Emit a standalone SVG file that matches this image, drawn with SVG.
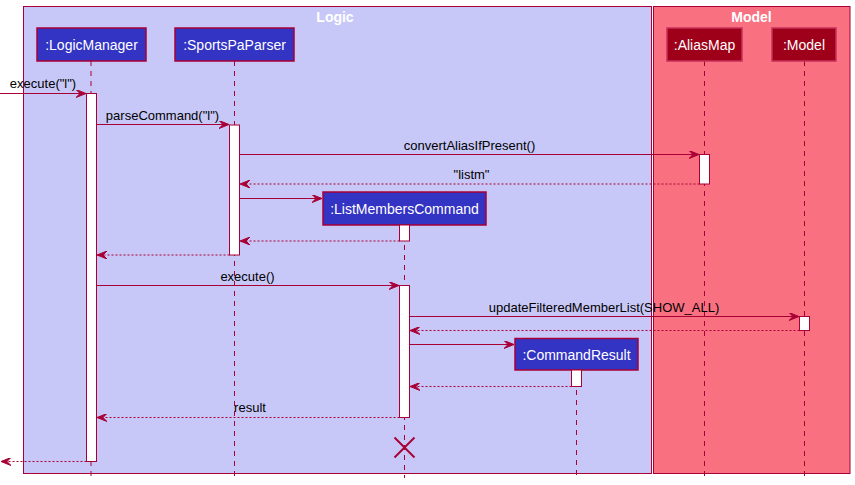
<svg xmlns="http://www.w3.org/2000/svg" width="855" height="485" viewBox="0 0 855 485">
<defs>
<style>
.txt{font-family:"Liberation Sans",Arial,sans-serif;font-size:13px;fill:#000;text-anchor:middle}
.ptxt{font-family:"Liberation Sans",Arial,sans-serif;font-size:14px;fill:#fff;text-anchor:middle}
.ttl{font-family:"Liberation Sans",Arial,sans-serif;font-size:14px;font-weight:bold;fill:#fff;text-anchor:middle}
.life{stroke:#A80036;stroke-width:1;stroke-dasharray:5,5;fill:none}
.act{fill:#fff;stroke:#A80036;stroke-width:1}
.plogic{fill:#3333C4;stroke:#A80036;stroke-width:1.5}
.pmodel{fill:#9D0018;stroke:#C8305A;stroke-width:1.5}
.msg{stroke:#A80036;stroke-width:1;fill:none}
.ret{stroke:#A80036;stroke-width:1;fill:none;stroke-dasharray:2,2}
</style>
<marker id="ah" viewBox="0 0 10 8" refX="10" refY="4" markerWidth="10" markerHeight="8" markerUnits="userSpaceOnUse" orient="auto">
<path d="M0,0 L10,4 L0,8 L4,4 Z" fill="#A80036" stroke="#A80036" stroke-width="1" stroke-dasharray="none"/>
</marker>
</defs>
<rect width="855" height="485" fill="#fff"/>
<g id="box-logic">
<rect x="23.5" y="6.5" width="628" height="467" fill="#C8C8F8" stroke="#A80036" stroke-width="1"/>
<text class="ttl" x="335" y="21.5">Logic</text>
</g>
<g id="box-model">
<rect x="653.5" y="6.5" width="196.5" height="467" fill="#F97181" stroke="#A80036" stroke-width="1"/>
<text class="ttl" x="751.5" y="21.5">Model</text>
</g>
<g id="lifelines">
<line class="life" x1="91" y1="61" x2="91" y2="478"/>
<line class="life" x1="234.5" y1="61" x2="234.5" y2="478"/>
<line class="life" x1="404.5" y1="225" x2="404.5" y2="478"/>
<line class="life" x1="576.5" y1="370" x2="576.5" y2="478"/>
<line class="life" x1="704.5" y1="61" x2="704.5" y2="478"/>
<line class="life" x1="804.5" y1="61" x2="804.5" y2="478"/>
</g>
<g id="LogicManager">
<rect class="plogic" x="37" y="28" width="109" height="33"/>
<text class="ptxt" x="91.5" y="49.5">:LogicManager</text>
<rect class="act" x="86.5" y="93.5" width="10" height="368"/>
</g>
<g id="SportsPaParser">
<rect class="plogic" x="175" y="28" width="119" height="33"/>
<text class="ptxt" x="234.5" y="49.5">:SportsPaParser</text>
<rect class="act" x="229.5" y="125" width="10" height="130"/>
</g>
<g id="ListMembersCommand">
<rect class="plogic" x="323" y="192" width="163" height="33"/>
<text class="ptxt" x="404.5" y="213.5">:ListMembersCommand</text>
<rect class="act" x="399.5" y="225" width="10" height="16"/>
<rect class="act" x="399.5" y="285.5" width="10" height="132"/>
<g id="destroy" stroke="#A80036" stroke-width="2">
<line x1="394.5" y1="437.5" x2="414.5" y2="457.5"/>
<line x1="414.5" y1="437.5" x2="394.5" y2="457.5"/>
</g>
</g>
<g id="CommandResult">
<rect class="plogic" x="515" y="338.5" width="123" height="31.5"/>
<text class="ptxt" x="576.5" y="359.5">:CommandResult</text>
<rect class="act" x="571.5" y="370" width="10" height="16.5"/>
</g>
<g id="AliasMap">
<rect class="pmodel" x="667" y="28" width="75" height="33"/>
<text class="ptxt" x="704.5" y="49.5">:AliasMap</text>
<rect class="act" x="699.5" y="154.5" width="10" height="29.5"/>
</g>
<g id="Model">
<rect class="pmodel" x="772" y="28" width="64" height="33"/>
<text class="ptxt" x="804" y="49.5">:Model</text>
<rect class="act" x="799.5" y="316.5" width="10" height="14"/>
</g>
<g id="connectors">
<line class="msg" x1="0" y1="93.5" x2="86" y2="93.5" marker-end="url(#ah)"/>
<text class="txt" x="43" y="88">execute("l")</text>
<line class="msg" x1="96.5" y1="124.5" x2="229" y2="124.5" marker-end="url(#ah)"/>
<text class="txt" x="162.5" y="119.5">parseCommand("l")</text>
<line class="msg" x1="239.5" y1="154.5" x2="699" y2="154.5" marker-end="url(#ah)"/>
<text class="txt" x="469.5" y="149.5">convertAliasIfPresent()</text>
<line class="ret" x1="699.5" y1="184" x2="240" y2="184" marker-end="url(#ah)"/>
<text class="txt" x="471.5" y="179">"listm"</text>
<line class="msg" x1="239.5" y1="198.5" x2="322" y2="198.5" marker-end="url(#ah)"/>
<line class="ret" x1="399.5" y1="241" x2="240" y2="241" marker-end="url(#ah)"/>
<line class="ret" x1="229.5" y1="255" x2="97" y2="255" marker-end="url(#ah)"/>
<line class="msg" x1="96.5" y1="285.5" x2="399" y2="285.5" marker-end="url(#ah)"/>
<text class="txt" x="247.5" y="280.5">execute()</text>
<line class="msg" x1="409.5" y1="316.5" x2="799" y2="316.5" marker-end="url(#ah)"/>
<text class="txt" x="604" y="311.5">updateFilteredMemberList(SHOW_ALL)</text>
<line class="ret" x1="799.5" y1="330.5" x2="410" y2="330.5" marker-end="url(#ah)"/>
<line class="msg" x1="409.5" y1="344.5" x2="514" y2="344.5" marker-end="url(#ah)"/>
<line class="ret" x1="571.5" y1="386.5" x2="410" y2="386.5" marker-end="url(#ah)"/>
<line class="ret" x1="399.5" y1="417.5" x2="97" y2="417.5" marker-end="url(#ah)"/>
<text class="txt" x="250" y="412">result</text>
<line class="ret" x1="86.5" y1="461.5" x2="1" y2="461.5" marker-end="url(#ah)"/>
</g>
</svg>
